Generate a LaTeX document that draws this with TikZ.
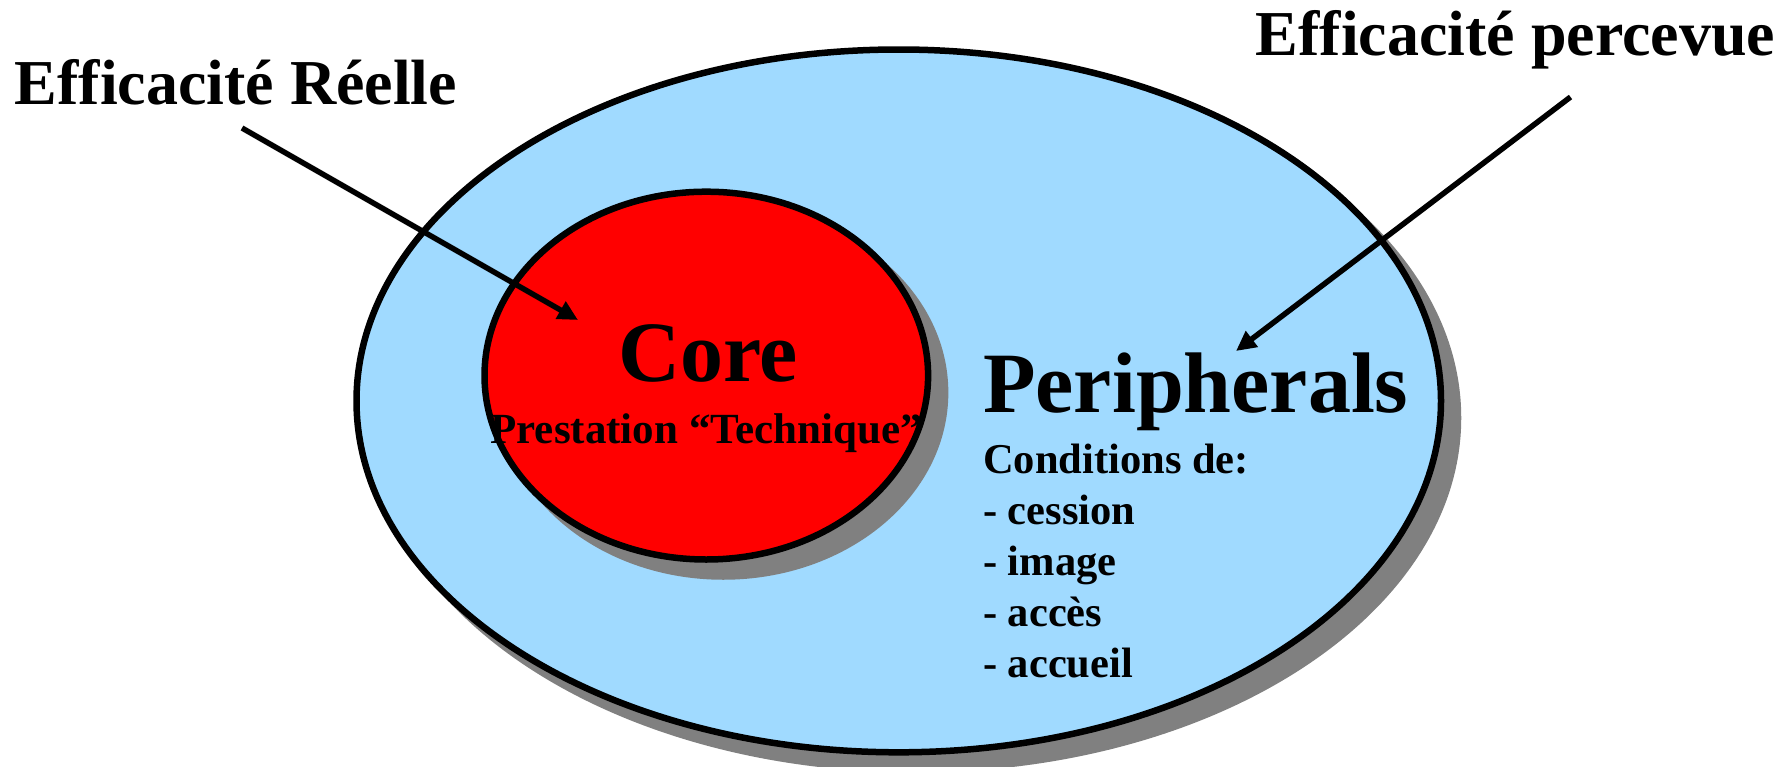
\documentclass[tikz,border=0pt]{standalone}
\usepackage{fontspec}
\setmainfont{Liberation Serif}
\usetikzlibrary{arrows.meta}
\definecolor{peri}{RGB}{160,218,255}
\definecolor{corered}{RGB}{255,0,0}
\definecolor{shade}{RGB}{128,128,128}
\begin{document}
\begin{tikzpicture}[x=1pt,y=-1pt,
  outline/.style={draw=black, line width=6.5pt},
  shadowfill/.style={fill=shade, draw=shade, line width=6.5pt},
  biglbl/.style={inner sep=0pt, font=\bfseries\fontsize{64}{77}\selectfont},
  huge/.style={inner sep=0pt, font=\bfseries\fontsize{86}{100}\selectfont},
  sub/.style={inner sep=0pt, font=\bfseries\fontsize{43}{51}\selectfont},
  item/.style={inner sep=0pt, anchor=base west, font=\bfseries\fontsize{42.5}{51}\selectfont},
  ptr/.style={draw=black, line width=5.5pt, -{Triangle[length=20pt,width=19pt]}}
]
\useasboundingbox (0,0) rectangle (1791,766);
\clip (0,0) rectangle (1791,766);
% outer ellipse with shadow
\path[shadowfill] (915.75,417.9) ellipse [x radius=542.25pt, y radius=351.4pt];
\path[outline, fill=peri] (898.75,400.9) ellipse [x radius=542.25pt, y radius=351.4pt];
% core ellipse with shadow
\path[shadowfill] (723.3,392.6) ellipse [x radius=221.8pt, y radius=183.9pt];
\path[outline, fill=corered] (706.3,375.6) ellipse [x radius=221.8pt, y radius=183.9pt];
% texts
\node[biglbl, anchor=base west] (reelle) at (14.5,104) {Efficacité Réelle};
\node[biglbl, anchor=base west] (percevue) at (1255.5,55) {Efficacité percevue};
\node[huge, anchor=base] (core) at (708,381.7) {Core};
\node[sub, anchor=base] (prest) at (706,443.3) {Prestation “Technique”};
\node[huge, anchor=base west] (peri) at (983,412.7) {Peripherals};
\node[item] (cond) at (983,473.3) {Conditions de:};
\node[item] (i1) at (983,524.3) {- cession};
\node[item] (i2) at (983,575) {- image};
\node[item] (i3) at (983,626) {- accès};
\node[item] (i4) at (983,677.3) {- accueil};
% arrows
\coordinate (a1s) at (242,128);
\coordinate (a1e) at (578,320);
\coordinate (a2s) at (1570.5,97);
\coordinate (a2e) at (1236,351);
\draw[ptr] (a1s) -- (a1e);
\draw[ptr] (a2s) -- (a2e);
\end{tikzpicture}
\end{document}
